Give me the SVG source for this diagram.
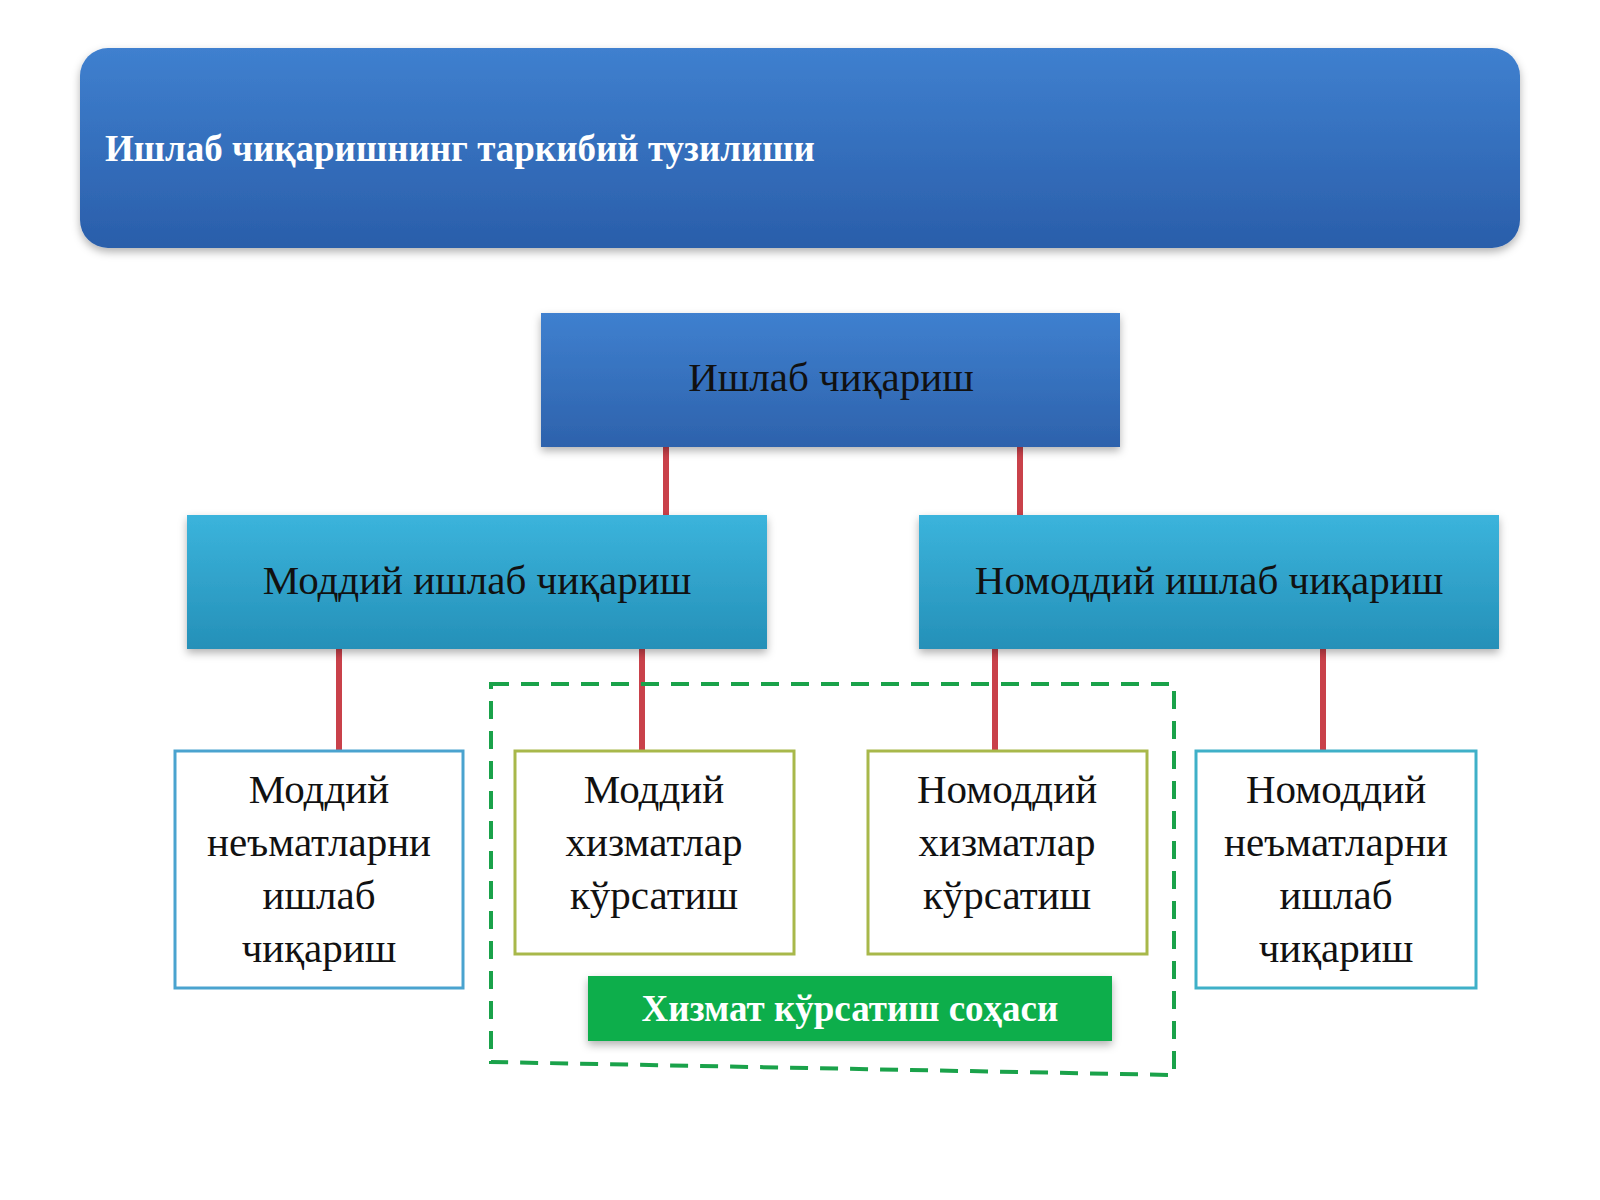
<svg xmlns="http://www.w3.org/2000/svg" width="1600" height="1200" viewBox="0 0 1600 1200">
<defs>
<linearGradient id="gTitle" x1="0" y1="0" x2="0" y2="1"><stop offset="0" stop-color="#3f80cf"/><stop offset="1" stop-color="#2a5eaa"/></linearGradient>
<linearGradient id="gTop" x1="0" y1="0" x2="0" y2="1"><stop offset="0" stop-color="#3f80cf"/><stop offset="1" stop-color="#2d62ac"/></linearGradient>
<linearGradient id="gMid" x1="0" y1="0" x2="0" y2="1"><stop offset="0" stop-color="#3bb4dc"/><stop offset="1" stop-color="#2590b8"/></linearGradient>
<filter id="sh" x="-5%" y="-10%" width="110%" height="130%"><feDropShadow dx="0" dy="4" stdDeviation="4" flood-color="#000" flood-opacity="0.3"/></filter>
</defs>
<style>
text{font-family:"Liberation Serif",serif;text-anchor:middle}
.t{font-size:41px;fill:#111}
.w{fill:#fff;font-weight:bold}
.c{stroke:#c9414a;stroke-width:6}
.bx{fill:#fff;stroke-width:3}
</style>
<rect width="1600" height="1200" fill="#fff"/>
<g id="title"><rect x="80" y="48" width="1440" height="200" rx="28" fill="url(#gTitle)" filter="url(#sh)"/>
<text x="105" y="161" class="w" font-size="37" style="text-anchor:start">Ишлаб чиқаришнинг таркибий тузилиши</text></g>
<g id="connectors">
<line class="c" x1="666" y1="447" x2="666" y2="515"/><line class="c" x1="1020" y1="447" x2="1020" y2="515"/>
<line class="c" x1="339" y1="649" x2="339" y2="751"/><line class="c" x1="642" y1="649" x2="642" y2="751"/>
<line class="c" x1="995" y1="649" x2="995" y2="751"/><line class="c" x1="1323" y1="649" x2="1323" y2="751"/>
</g>
<g id="root"><rect x="541" y="313" width="579" height="134" fill="url(#gTop)" filter="url(#sh)"/><text class="t" x="831" y="391">Ишлаб чиқариш</text></g>
<g id="material"><rect x="187" y="515" width="580" height="134" fill="url(#gMid)" filter="url(#sh)"/><text class="t" x="477" y="594">Моддий ишлаб чиқариш</text></g>
<g id="nonmaterial"><rect x="919" y="515" width="580" height="134" fill="url(#gMid)" filter="url(#sh)"/><text class="t" x="1209" y="594">Номоддий ишлаб чиқариш</text></g>
<g id="service-area"><path d="M491 684 L1174 684 L1174 1075 L491 1062 Z" fill="none" stroke="#1aa24a" stroke-width="4" stroke-dasharray="18 12"/></g>
<g id="b1"><rect class="bx" x="175" y="751" width="288" height="237" stroke="#4aa3cf"/>
<text class="t"><tspan x="319" y="803">Моддий</tspan><tspan x="319" y="856">неъматларни</tspan><tspan x="319" y="909">ишлаб</tspan><tspan x="319" y="962">чиқариш</tspan></text></g>
<g id="b2"><rect class="bx" x="515" y="751" width="279" height="203" stroke="#a8b84a"/>
<text class="t"><tspan x="654" y="803">Моддий</tspan><tspan x="654" y="856">хизматлар</tspan><tspan x="654" y="909">кўрсатиш</tspan></text></g>
<g id="b3"><rect class="bx" x="868" y="751" width="279" height="203" stroke="#a8b84a"/>
<text class="t"><tspan x="1007" y="803">Номоддий</tspan><tspan x="1007" y="856">хизматлар</tspan><tspan x="1007" y="909">кўрсатиш</tspan></text></g>
<g id="b4"><rect class="bx" x="1196" y="751" width="280" height="237" stroke="#3fb0c8"/>
<text class="t"><tspan x="1336" y="803">Номоддий</tspan><tspan x="1336" y="856">неъматларни</tspan><tspan x="1336" y="909">ишлаб</tspan><tspan x="1336" y="962">чиқариш</tspan></text></g>
<g id="label"><rect x="588" y="976" width="524" height="65" fill="#0fae4c" filter="url(#sh)"/><text class="w" x="850" y="1021" font-size="37">Хизмат кўрсатиш соҳаси</text></g>
</svg>
